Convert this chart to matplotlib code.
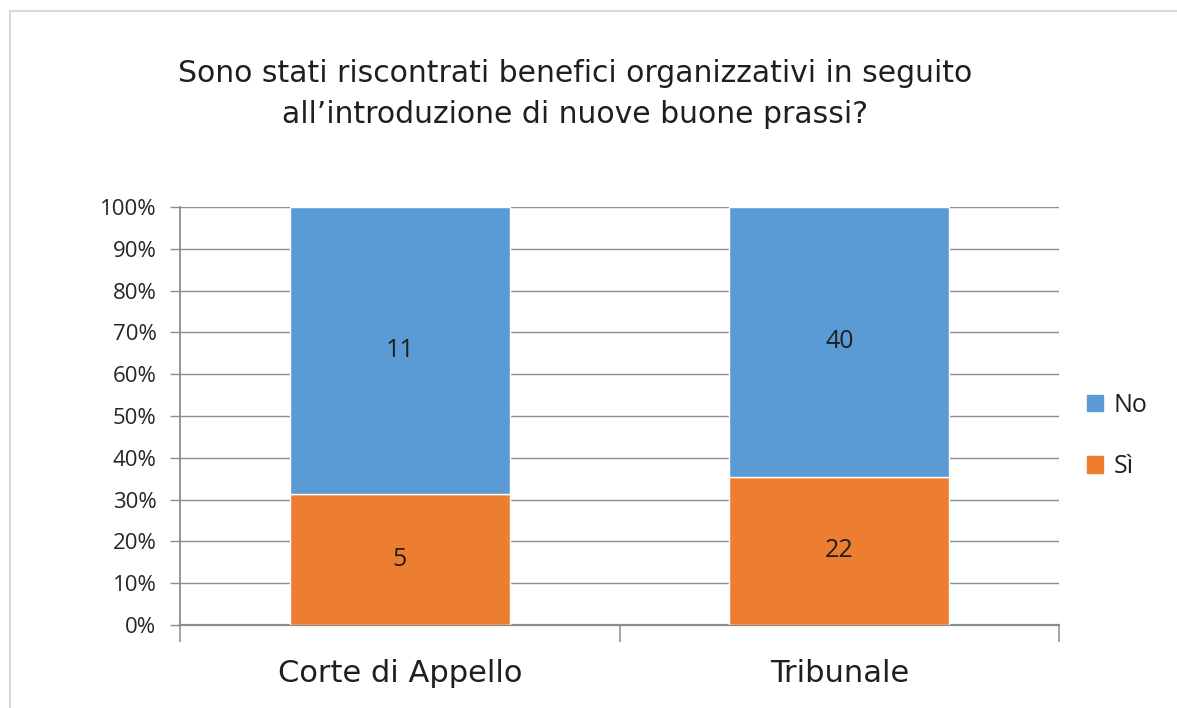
import matplotlib
matplotlib.use("Agg")
import matplotlib.pyplot as plt
from matplotlib.patches import Rectangle
from matplotlib.ticker import PercentFormatter

categories = ["Corte di Appello", "Tribunale"]
si_counts = [5, 22]
no_counts = [11, 40]
series_names = ["No", "Sì"]
title = "Sono stati riscontrati benefici organizzativi in seguito\nall\u2019introduzione di nuove buone prassi?"

BLUE = "#5B9BD5"
ORANGE = "#ED7D31"
GRID = "#8C8C8C"
narrow = ["Liberation Sans Narrow", "DejaVu Sans"]
regular = ["Open Sans", "DejaVu Sans"]

fig = plt.figure(figsize=(11.77, 7.08), dpi=100)
fig.patch.set_facecolor("white")

# outer chart frame
fig.add_artist(Rectangle((9.5 / 1177, -0.05), 1.2, 1 - 11 / 708 + 0.05,
                         transform=fig.transFigure, fill=False,
                         edgecolor="#D9D9D9", linewidth=1.5))

ax = fig.add_axes([180 / 1177, 1 - 625 / 708, (1059 - 180) / 1177, (625 - 207) / 708])

totals = [s + n for s, n in zip(si_counts, no_counts)]
si_pct = [s / t * 100 for s, t in zip(si_counts, totals)]
no_pct = [n / t * 100 for n, t in zip(no_counts, totals)]
x = list(range(len(categories)))

ax.bar(x, si_pct, width=0.5, color=ORANGE, edgecolor="white", linewidth=1, zorder=3)
ax.bar(x, no_pct, width=0.5, bottom=si_pct, color=BLUE, edgecolor="white", linewidth=1, zorder=3)

for i in x:
    ax.text(i, si_pct[i] / 2, str(si_counts[i]), ha="center", va="center",
            fontsize=18, family=regular, color="#1F1F1F", zorder=4)
    ax.text(i, si_pct[i] + no_pct[i] / 2, str(no_counts[i]), ha="center", va="center",
            fontsize=18, family=regular, color="#1F1F1F", zorder=4)

ax.set_xlim(-0.5, len(categories) - 0.5)
ax.set_ylim(0, 100)
ax.set_yticks(range(0, 101, 10))
ax.yaxis.set_major_formatter(PercentFormatter(decimals=0))
ax.grid(axis="y", color=GRID, linewidth=1.0, zorder=0)
ax.set_axisbelow(True)

for side in ["top", "right"]:
    ax.spines[side].set_visible(False)
ax.spines["left"].set_color(GRID)
ax.spines["bottom"].set_color(GRID)
ax.spines["left"].set_linewidth(1.3)
ax.spines["bottom"].set_linewidth(1.6)

ax.tick_params(axis="y", length=7, width=1.0, color=GRID, labelsize=16, pad=10, labelcolor="#262626")
for lab in ax.get_yticklabels():
    lab.set_family(regular)

# category boundary ticks on the x axis
ax.set_xticks([-0.5, 0.5, 1.5])
ax.set_xticklabels([])
ax.tick_params(axis="x", length=12, width=1.1, color=GRID)
for i, c in enumerate(categories):
    ax.text(i, -0.115, c, transform=ax.get_xaxis_transform(), ha="center", va="center",
            fontsize=22, family=narrow, color="#1F1F1F")

fig.text(0.489, 1 - 94 / 708, title, ha="center", va="center", fontsize=21.5,
         family=narrow, color="#1F1F1F", linespacing=1.55)

handles = [Rectangle((0, 0), 1, 1, color=BLUE), Rectangle((0, 0), 1, 1, color=ORANGE)]
leg = fig.legend(handles, series_names, loc="center left",
                 bbox_to_anchor=(1064 / 1177, 1 - 436 / 708), frameon=False,
                 handlelength=0.65, handleheight=0.65, handletextpad=0.45,
                 labelspacing=1.45, prop={"family": regular, "size": 18})
for t in leg.get_texts():
    t.set_color("#1F1F1F")

fig.savefig("out.png", dpi=100, facecolor="white")
